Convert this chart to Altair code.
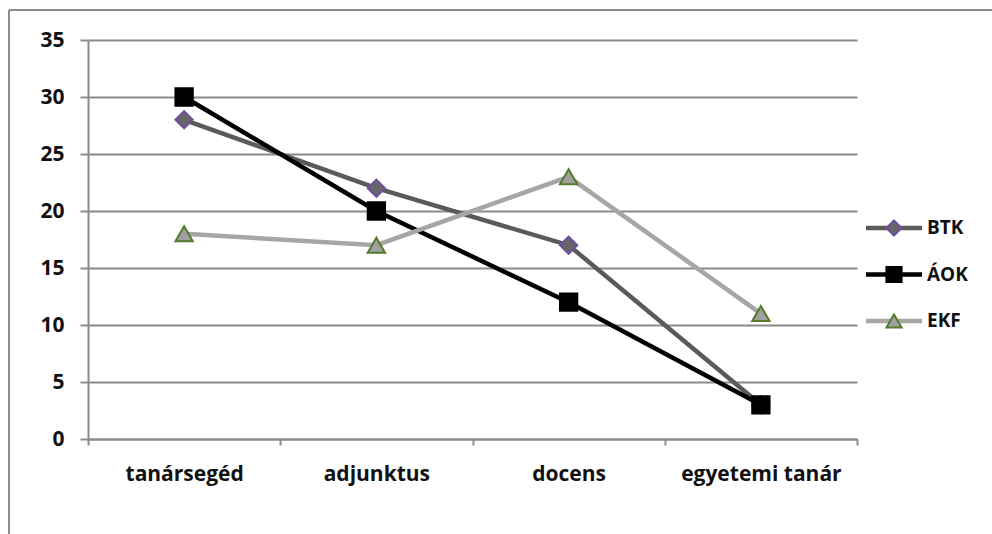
import altair as alt
import pandas as pd

categories = ["tanársegéd", "adjunktus", "docens", "egyetemi tanár"]
series_names = ["BTK", "ÁOK", "EKF"]
btk = [28, 22, 17, 3]
aok = [30, 20, 12, 3]
ekf = [18, 17, 23, 11]

rows = []
for name, vals in zip(series_names, [btk, aok, ekf]):
    for c, v in zip(categories, vals):
        rows.append({"kategoria": c, "ertek": v, "sorozat": name})
df = pd.DataFrame(rows)
leg_df = pd.DataFrame({"sorozat": series_names})

FONT = "Open Sans"
line_colors = ["#5a5a5a", "#000000", "#a6a6a6"]
fill_colors = ["#666666", "#000000", "#a0a0a0"]
stroke_colors = ["#6f4f9f", "#000000", "#557a2c"]
shapes = ["diamond", "square", "triangle-up"]

W, H = 769, 399

color_scale = alt.Scale(domain=series_names, range=line_colors)
fill_scale = alt.Scale(domain=series_names, range=fill_colors)
stroke_scale = alt.Scale(domain=series_names, range=stroke_colors)
shape_scale = alt.Scale(domain=series_names, range=shapes)

x_enc = alt.X(
    "kategoria:N",
    sort=categories,
    bandPosition=0.5,
    scale=alt.Scale(type="band", paddingInner=0, paddingOuter=0),
    axis=alt.Axis(
        title=None, labelAngle=0, grid=False, tickBand="extent",
        tickSize=6, tickColor="#8a8a8a", tickWidth=2,
        domainColor="#8a8a8a", domainWidth=2,
        labelFont=FONT, labelFontSize=21, labelFontWeight="bold",
        labelColor="#111111", labelPadding=18,
    ),
)
y_enc = alt.Y(
    "ertek:Q",
    scale=alt.Scale(domain=[0, 35], nice=False),
    axis=alt.Axis(
        title=None, values=[0, 5, 10, 15, 20, 25, 30, 35],
        grid=True, gridColor="#8a8a8a", gridWidth=2,
        tickSize=8, tickColor="#8a8a8a", tickWidth=2,
        domainColor="#8a8a8a", domainWidth=2,
        labelFont=FONT, labelFontSize=21, labelFontWeight="bold",
        labelColor="#111111", labelPadding=16,
    ),
)

base = alt.Chart(df)
lines = base.mark_line(strokeWidth=4.5).encode(
    x=x_enc, y=y_enc,
    color=alt.Color("sorozat:N", scale=color_scale, legend=None),
    detail="sorozat:N",
)
points = base.mark_point(filled=True, opacity=1, size=300, strokeWidth=2).encode(
    x=x_enc, y=y_enc,
    shape=alt.Shape("sorozat:N", scale=shape_scale, legend=None),
    fill=alt.Fill("sorozat:N", scale=fill_scale, legend=None),
    stroke=alt.Stroke("sorozat:N", scale=stroke_scale, legend=None),
)
main = alt.layer(lines, points)

leg_y = alt.Y("sorozat:N", sort=series_names,
              scale=alt.Scale(type="point", domain=series_names, range=[188, 281], padding=0),
              axis=None)
leg_base = alt.Chart(leg_df)
leg_lines = leg_base.mark_rule(strokeWidth=4.5).encode(
    x=alt.value(778), x2=alt.value(834), y=leg_y,
    color=alt.Color("sorozat:N", scale=color_scale, legend=None),
)
leg_points = leg_base.mark_point(filled=True, opacity=1, size=230, strokeWidth=2).encode(
    x=alt.value(806), y=leg_y,
    shape=alt.Shape("sorozat:N", scale=shape_scale, legend=None),
    fill=alt.Fill("sorozat:N", scale=fill_scale, legend=None),
    stroke=alt.Stroke("sorozat:N", scale=stroke_scale, legend=None),
)
leg_text = leg_base.mark_text(
    align="left", baseline="middle", font=FONT, fontSize=19,
    fontWeight="bold", color="#111111",
).encode(x=alt.value(839), y=leg_y, text="sorozat:N")
legend = alt.layer(leg_lines, leg_points, leg_text)

frame_top = alt.Chart(leg_df.head(1)).mark_rule(color="#8c8c8c", strokeWidth=2).encode(
    x=alt.value(-79), x2=alt.value(1000), y=alt.value(-30)
)
frame_left = alt.Chart(leg_df.head(1)).mark_rule(color="#8c8c8c", strokeWidth=2).encode(
    x=alt.value(-79), y=alt.value(-30), y2=alt.value(600)
)

chart = (
    alt.layer(frame_top, frame_left, main, legend)
    .resolve_scale(y="independent")
    .properties(
        width=W, height=H,
        autosize=alt.AutoSizeParams(type="none"),
        padding={"left": 88, "top": 40, "right": 992 - 88 - W, "bottom": 534 - 40 - H},
        background="white",
    )
    .configure_view(stroke=None)
)

chart.save("out.html", embed_options={"renderer": "svg", "actions": False})
